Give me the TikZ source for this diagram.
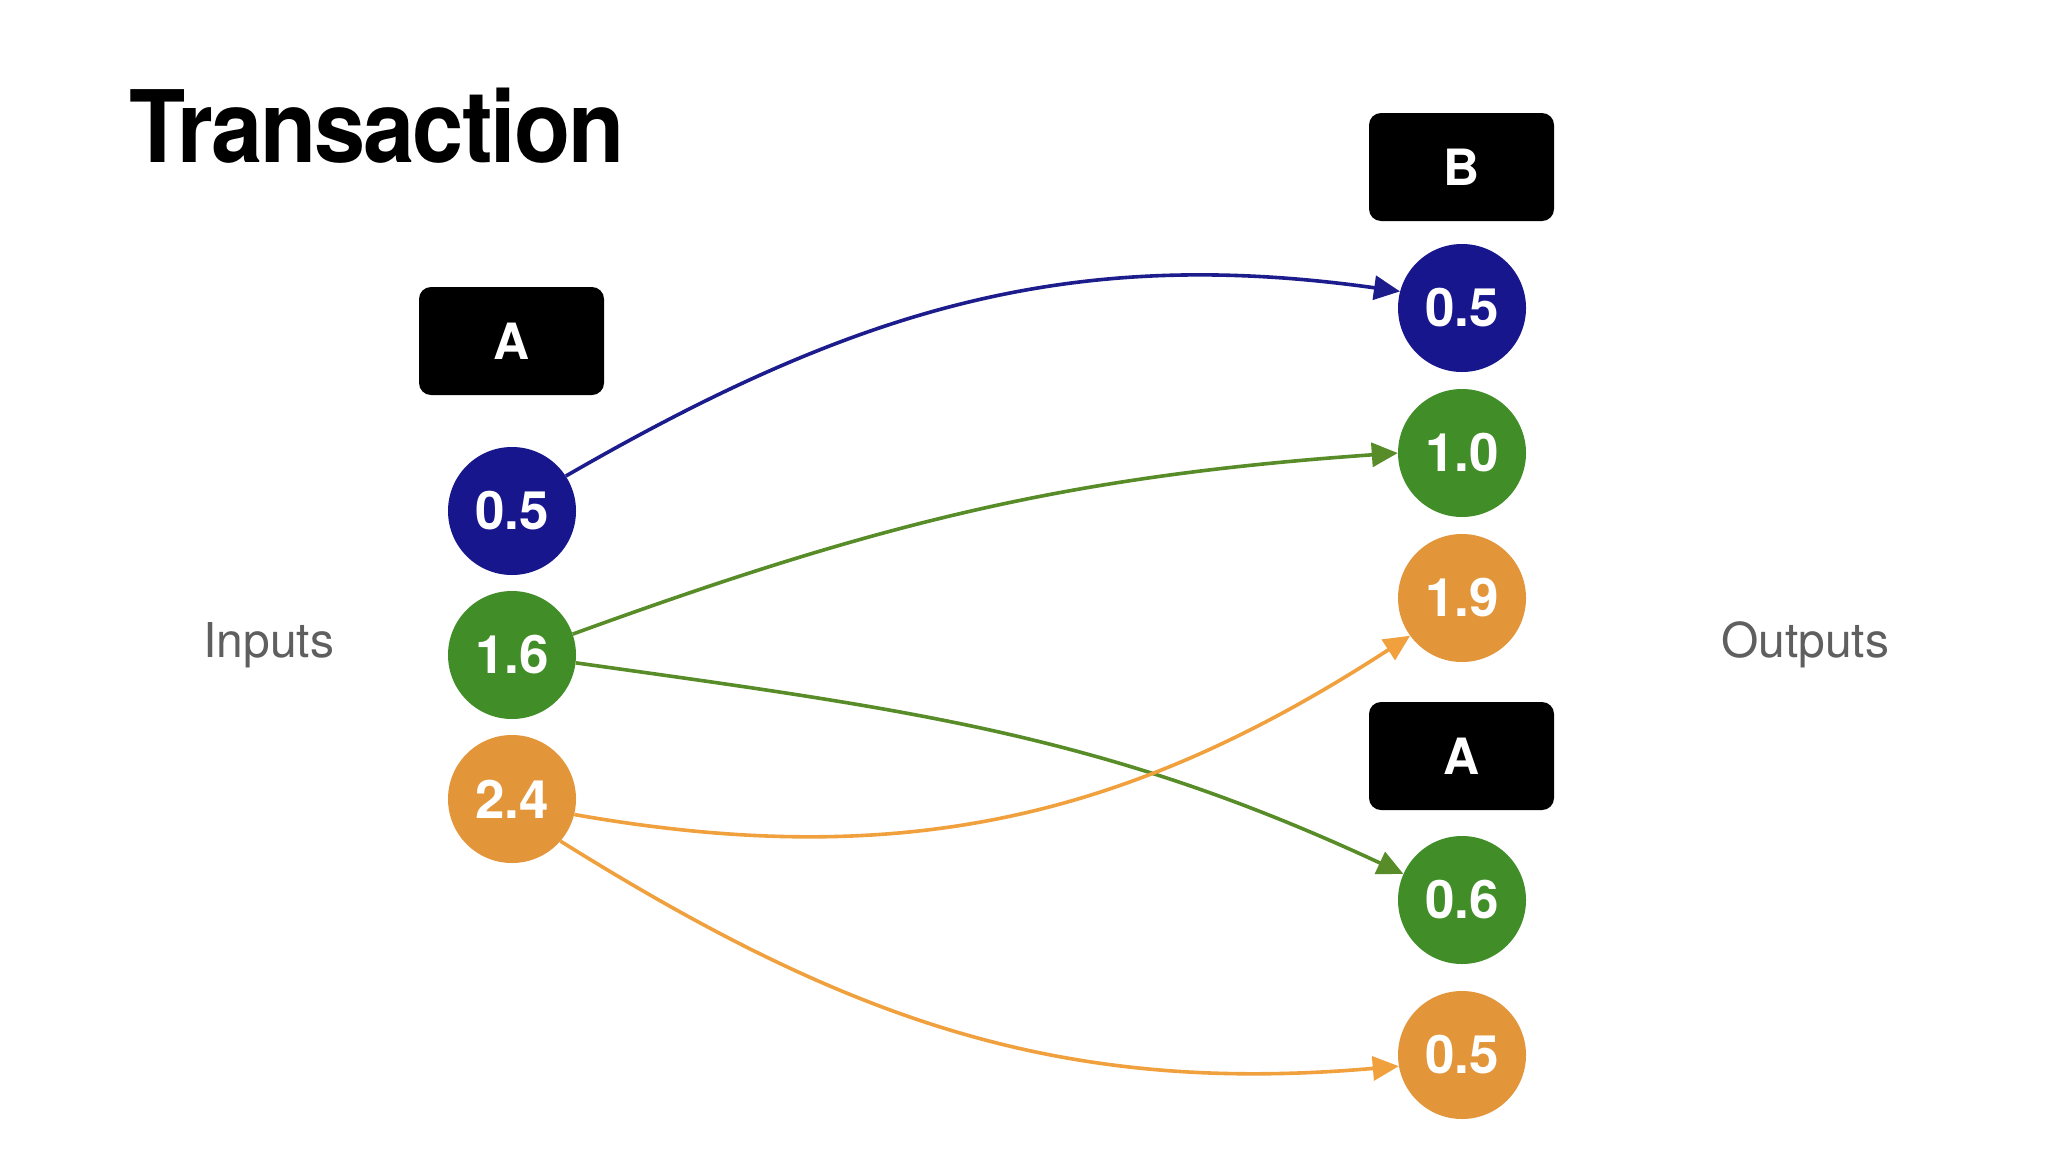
\documentclass[tikz,border=0pt]{standalone}
\usepackage{fontspec}
\setmainfont{TeX Gyre Heros}
\newfontfamily\titlefont[FakeStretch=0.92,LetterSpace=-2]{TeX Gyre Heros}
\usetikzlibrary{arrows.meta}
\definecolor{cblue}{RGB}{24,22,140}
\definecolor{cgreen}{RGB}{65,142,41}
\definecolor{corange}{RGB}{227,149,57}
\definecolor{ablue}{RGB}{28,28,140}
\definecolor{agreen}{RGB}{88,140,40}
\definecolor{aorange}{RGB}{240,160,60}
\definecolor{sidegray}{RGB}{95,95,95}
\begin{document}
\begin{tikzpicture}[x=1pt,y=-1pt,
  coin/.style={circle,minimum size=128pt,inner sep=0pt,text=white,font=\fontsize{53}{53}\selectfont\bfseries},
  owner/.style={rounded corners=12pt,fill=black,minimum width=185pt,minimum height=108pt,inner sep=0pt,text=white,font=\fontsize{50}{50}\selectfont\bfseries},
  flow/.style={line width=3.6pt,-{Triangle[length=26pt,width=24pt]}},
  side/.style={text=sidegray,font=\fontsize{48}{48}\selectfont,inner sep=0pt,anchor=base west}]
\useasboundingbox[fill=white] (0,0) rectangle (2058,1154);

\node[anchor=base west,inner sep=0pt,font=\titlefont\fontsize{100}{100}\selectfont\bfseries] (title) at (129,162) {Transaction};

\node[side] (inputs) at (203,657) {Inputs};
\node[side] (outputs) at (1721,657) {Outputs};

\node[owner] (boxA1) at (511.5,341) {A};
\node[coin,fill=cblue] (l05) at (512,511) {0.5};
\node[coin,fill=cgreen] (l16) at (512,655) {1.6};
\node[coin,fill=corange] (l24) at (512,799) {2.4};

\node[owner] (boxB) at (1461.5,167) {B};
\node[coin,fill=cblue] (r05b) at (1462,308) {0.5};
\node[coin,fill=cgreen] (r10) at (1462,453) {1.0};
\node[coin,fill=corange] (r19) at (1462,598) {1.9};
\node[owner] (boxA2) at (1461.5,756) {A};
\node[coin,fill=cgreen] (r06) at (1462,900) {0.6};
\node[coin,fill=corange] (r05o) at (1462,1055) {0.5};

\draw[flow,ablue] (l05.33) to[out=30,in=172] (r05b.165);
\draw[flow,agreen] (l16.19) to[out=20,in=184] (r10.180);
\draw[flow,agreen] (l16.-7) to[out=-8,in=155] (r06.156);
\draw[flow,aorange] (l24.-14) to[out=-10,in=-147] (r19.-144);
\draw[flow,aorange] (l24.-41) to[out=-32,in=185] (r05o.190);
\end{tikzpicture}
\end{document}
